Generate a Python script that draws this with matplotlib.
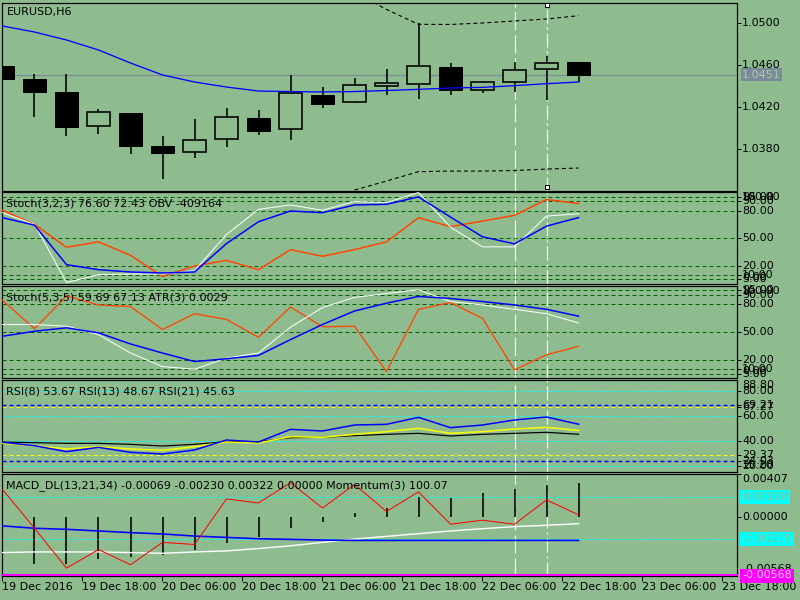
import numpy as np
import matplotlib
matplotlib.use('Agg')
import matplotlib.pyplot as plt

plt.rcParams['font.family'] = ['DejaVu Sans']
plt.rcParams['lines.scale_dashes'] = False
plt.rcParams['font.size'] = 8

W, H = 800, 600
PT = 0.72          # points per pixel at 100 dpi
BG = '#8fbc8f'

# ---------------- data ----------------
x_labels = ['19 Dec 2016', '19 Dec 18:00', '20 Dec 06:00', '20 Dec 18:00', '21 Dec 06:00',
            '21 Dec 18:00', '22 Dec 06:00', '22 Dec 18:00', '23 Dec 06:00', '23 Dec 18:00']

opens  = [1.04593, 1.04470, 1.04346, 1.04025, 1.04146, 1.03831, 1.03777, 1.03895, 1.04098, 1.03990,
          1.04317, 1.04248, 1.04400, 1.04419, 1.04581, 1.04362, 1.04438, 1.04562, 1.04629]
highs  = [1.04593, 1.04517, 1.04517, 1.04187, 1.04146, 1.03927, 1.04089, 1.04193, 1.04174, 1.04505,
          1.04390, 1.04479, 1.04565, 1.05000, 1.04622, 1.04453, 1.04631, 1.04686, 1.04629]
lows   = [1.04473, 1.04110, 1.03930, 1.03946, 1.03758, 1.03520, 1.03720, 1.03825, 1.03936, 1.03891,
          1.04196, 1.04238, 1.04320, 1.04282, 1.04320, 1.04339, 1.04349, 1.04270, 1.04438]
closes = [1.04473, 1.04349, 1.04015, 1.04155, 1.03834, 1.03768, 1.03886, 1.04105, 1.03977, 1.04333,
          1.04234, 1.04410, 1.04429, 1.04590, 1.04368, 1.04438, 1.04552, 1.04619, 1.04510]
ma_line = [1.04974, 1.04917, 1.04841, 1.04746, 1.04622, 1.04508, 1.04441, 1.04393, 1.04355, 1.04350,
           1.04346, 1.04350, 1.04360, 1.04371, 1.04384, 1.04390, 1.04406, 1.04425, 1.04441]
band_start = 11
band_upper = [1.05298, 1.05132, 1.04990, 1.04989, 1.05003, 1.05022, 1.05041, 1.05072]
band_lower = [1.03412, 1.03498, 1.03587, 1.03593, 1.03593, 1.03598, 1.03612, 1.03622]
last_price = 1.0451
price_ticks = [1.0500, 1.0460, 1.0420, 1.0380]

st1_main   = [77.8, 65.0, 1.6, 10.1, 10.9, 10.9, 14.5, 54.0, 81.4, 86.2, 80.4, 89.9, 88.8, 99.8, 62.0, 40.5, 40.5, 74.1, 76.60]
st1_signal = [72.3, 64.2, 21.1, 15.6, 13.1, 12.0, 13.1, 44.1, 67.9, 79.6, 77.8, 86.2, 86.9, 95.0, 73.0, 51.5, 43.8, 63.1, 72.43]
obv_line   = [80.4, 65.0, 40.1, 46.0, 31.3, 8.2, 19.6, 25.8, 15.6, 37.5, 30.2, 37.5, 46.0, 72.3, 62.5, 68.6, 74.9, 92.1, 87.7]

st2_main   = [58.1, 58.1, 56.3, 47.2, 27.3, 12.7, 9.8, 21.8, 27.3, 55.2, 76.4, 87.3, 91.6, 95.6, 82.9, 79.2, 74.5, 69.8, 59.69]
st2_signal = [45.4, 50.8, 54.5, 49.1, 37.1, 27.3, 18.1, 21.1, 24.7, 41.8, 58.1, 72.7, 81.1, 88.4, 86.2, 82.9, 79.2, 74.5, 67.13]
atr_line   = [84.3, 53.5, 89.0, 79.2, 77.5, 52.7, 69.8, 63.6, 44.3, 77.0, 55.6, 56.3, 7.2, 74.5, 81.8, 64.7, 9.1, 25.4, 34.5]
stoch_levels = [95, 90, 80, 50, 20, 10, 5]

rsi8  = [39.17, 36.51, 31.71, 35.17, 31.17, 29.84, 33.04, 41.04, 39.44, 49.57, 48.24, 53.04, 53.57, 59.17, 50.91, 53.04, 57.04, 59.44, 53.67]
rsi13 = [38.37, 36.51, 33.84, 35.71, 33.84, 32.77, 35.71, 39.44, 38.64, 43.71, 43.17, 45.57, 47.71, 50.37, 46.37, 47.71, 49.84, 51.17, 48.67]
rsi21 = [39.44, 38.91, 38.37, 38.37, 37.57, 36.24, 37.57, 39.71, 39.71, 42.91, 43.17, 44.51, 45.57, 46.37, 44.24, 45.57, 46.37, 47.17, 45.63]
rsi_cyan_levels = [80, 60, 40, 20]
rsi_blue_levels = [69.21, 24.03]
rsi_yellow_levels = [67.27, 29.37]
rsi_range = (15.20, 88.80)

macd_main   = [-0.00347, -0.00341, -0.00341, -0.00341, -0.00347, -0.00354, -0.00341, -0.00331, -0.00308, -0.00282,
               -0.00249, -0.00217, -0.00191, -0.00165, -0.00139, -0.00117, -0.00097, -0.00084, -0.00069]
macd_signal = [-0.00090, -0.00113, -0.00123, -0.00139, -0.00155, -0.00168, -0.00188, -0.00201, -0.00214, -0.00220,
               -0.00227, -0.00230, -0.00230, -0.00230, -0.00230, -0.00230, -0.00230, -0.00230, -0.00230]
macd_hist   = [np.nan, -0.00454, -0.00454, -0.00405, -0.00389, -0.00373, -0.00318, -0.00253, -0.00194, -0.00113,
               -0.00049, 0.00033, 0.00082, 0.00186, 0.00182, 0.00224, 0.00261, 0.00300, 0.00322]
momentum_line = [0.00261, -0.00113, -0.00497, -0.00318, -0.00464, -0.00249, -0.00269, 0.00170, 0.00131, 0.00326,
                 0.00082, 0.00309, 0.00049, 0.00238, -0.00074, -0.00035, -0.00074, 0.00160, 0.00017]
macd_levels = [0.00190, -0.00215]
macd_range = (-0.00568, 0.00407)

bars = np.arange(len(opens))
X_LEFT, X_RIGHT = -0.0156, 22.953
xtick_pos = [-0.0156 + 2.5 * k for k in range(len(x_labels))]

# ---------------- figure ----------------
fig = plt.figure(figsize=(8, 6), dpi=100, facecolor=BG)


def make_ax(top, bottom):
    ax = fig.add_axes([2 / W, 1 - bottom / H, 735 / W, (bottom - top) / H])
    ax.set_facecolor(BG)
    for s in ax.spines.values():
        s.set_linewidth(1.2 * PT)
        s.set_color('black')
    ax.set_xlim(X_LEFT, X_RIGHT)
    ax.tick_params(axis='x', bottom=False, labelbottom=False)
    ax.yaxis.tick_right()
    ax.tick_params(axis='y', direction='out', length=4 * PT, width=1 * PT, colors='black',
                   labelright=False, left=False, labelleft=False)
    return ax


def rlabel(ax, v, s, **kw):
    ax.annotate(s, xy=(1, v), xycoords=('axes fraction', 'data'), xytext=(5 * PT, 0),
                textcoords='offset points', va='center', ha='left', fontsize=8,
                annotation_clip=False, **kw)


def edge_label(ax, s, top=True):
    ax.annotate(s, xy=(1, 1 if top else 0), xycoords='axes fraction',
                xytext=(5 * PT, -5 * PT if top else 7 * PT), textcoords='offset points',
                va='center', ha='left', fontsize=8, annotation_clip=False)


def vlines_white(ax):
    ax.axvline(16, color='white', lw=1.2 * PT, linestyle=(0, (18 * PT, 5 * PT)), zorder=1.5)
    ax.axvline(17, color='white', lw=1.2 * PT, linestyle=(0, (14 * PT, 4 * PT, 2 * PT, 4 * PT)), zorder=1.5)


DASH = (0, (4 * PT, 3 * PT))

# ---- panel 1 : price ----
ax1 = make_ax(2.5, 190.7)
ax1.set_ylim(1.03406, 1.05198)
o = np.array(opens); c = np.array(closes)
up = c >= o
body_lo = np.minimum(o, c)
body_h = np.abs(c - o)
ax1.axhline(last_price, color='#7a8a9a', lw=1.2 * PT, zorder=1)
vlines_white(ax1)
ax1.vlines(bars, lows, highs, color='black', lw=1.6 * PT, zorder=2)
ax1.bar(bars[up], body_h[up], bottom=body_lo[up], width=0.72, facecolor=BG,
        edgecolor='black', linewidth=1.6 * PT, zorder=3)
ax1.bar(bars[~up], body_h[~up], bottom=body_lo[~up], width=0.72, facecolor='black',
        edgecolor='black', linewidth=1 * PT, zorder=3)
ax1.plot(bars, ma_line, color='#0000ff', lw=1.3 * PT, zorder=4)
bx = bars[band_start:]
ax1.plot(bx, band_upper, color='black', lw=1.1 * PT, linestyle=(0, (4 * PT, 3 * PT)), zorder=4)
ax1.plot(bx, band_lower, color='black', lw=1.1 * PT, linestyle=(0, (4 * PT, 3 * PT)), zorder=4)
for yf in (0.987, 0.018):
    ax1.plot([17], [yf], marker='s', ms=4 * PT, mfc='white', mec='black', mew=1 * PT,
             transform=ax1.get_xaxis_transform(), zorder=6, clip_on=False)
ax1.set_yticks(price_ticks)
for v in price_ticks:
    rlabel(ax1, v, f'{v:.4f}')
rlabel(ax1, last_price, f'{last_price:.4f}', color='#a6cf9f', zorder=10,
       bbox=dict(boxstyle='square,pad=0.12', facecolor='#7a8a9a', edgecolor='none'))
fig.text(7 / W, 1 - 12 / H, 'EURUSD,H6', va='center', ha='left', fontsize=8)

# ---- panel 2 : Stoch(3,2,3) + OBV ----
ax2 = make_ax(192.3, 284.0)
ax2.set_ylim(0, 100)
for v in stoch_levels:
    ax2.axhline(v, color='#006400', lw=1 * PT, linestyle=DASH, zorder=1)
vlines_white(ax2)
ax2.plot(bars, obv_line, color='#ff4500', lw=1.5 * PT, zorder=3)
ax2.plot(bars, st1_main, color='white', lw=1 * PT, zorder=3)
ax2.plot(bars, st1_signal, color='#0000ff', lw=1.5 * PT, zorder=4)
ax2.set_yticks(stoch_levels)
for v in stoch_levels:
    rlabel(ax2, v, f'{v:.2f}')
edge_label(ax2, '100.00', True)
edge_label(ax2, '0.00', False)
fig.text(6 / W, 1 - 203.3 / H, 'Stoch(3,2,3) 76.60 72.43 OBV -409164', va='center', ha='left', fontsize=8)

# ---- panel 3 : Stoch(5,3,5) + ATR ----
ax3 = make_ax(285.7, 378.3)
ax3.set_ylim(0, 100)
for v in stoch_levels:
    ax3.axhline(v, color='#006400', lw=1 * PT, linestyle=DASH, zorder=1)
vlines_white(ax3)
ax3.plot(bars, atr_line, color='#ff4500', lw=1.3 * PT, zorder=3)
ax3.plot(bars, st2_main, color='white', lw=1 * PT, zorder=3)
ax3.plot(bars, st2_signal, color='#0000ff', lw=1.5 * PT, zorder=4)
ax3.set_yticks(stoch_levels)
for v in stoch_levels:
    rlabel(ax3, v, f'{v:.2f}')
edge_label(ax3, '100.00', True)
edge_label(ax3, '0.00', False)
fig.text(6 / W, 1 - 297.3 / H, 'Stoch(5,3,5) 59.69 67.13 ATR(3) 0.0029', va='center', ha='left', fontsize=8)

# ---- panel 4 : RSI ----
ax4 = make_ax(380.3, 472.3)
ax4.set_ylim(*rsi_range)
for v in rsi_cyan_levels:
    ax4.axhline(v, color='#00ffff', lw=1 * PT, linestyle=DASH, zorder=1)
for v in rsi_yellow_levels:
    ax4.axhline(v, color='#ffff00', lw=1 * PT, linestyle=DASH, zorder=1)
for v in rsi_blue_levels:
    ax4.axhline(v, color='#0000ff', lw=1.4 * PT, linestyle=DASH, zorder=1)
vlines_white(ax4)
ax4.plot(bars, rsi21, color='black', lw=1.2 * PT, zorder=3)
ax4.plot(bars, rsi13, color='#ffff00', lw=1.5 * PT, zorder=3)
ax4.plot(bars, rsi8, color='#0000ff', lw=1.5 * PT, zorder=4)
rsi_all_levels = rsi_cyan_levels + rsi_blue_levels + rsi_yellow_levels
ax4.set_yticks(rsi_all_levels)
for v in rsi_all_levels:
    rlabel(ax4, v, f'{v:.2f}')
edge_label(ax4, f'{rsi_range[1]:.2f}', True)
edge_label(ax4, f'{rsi_range[0]:.2f}', False)
fig.text(6 / W, 1 - 391.7 / H, 'RSI(8) 53.67 RSI(13) 48.67 RSI(21) 45.63', va='center', ha='left', fontsize=8)

# ---- panel 5 : MACD + Momentum ----
ax5 = make_ax(474.3, 575.5)
ax5.set_ylim(*macd_range)
for v in macd_levels:
    ax5.axhline(v, color='#00ffff', lw=1 * PT, linestyle=DASH, zorder=1)
ax5.axhline(macd_range[0], color='#ff00ff', lw=2 * PT, zorder=6, clip_on=False)
vlines_white(ax5)
ax5.vlines(bars, 0, macd_hist, color='black', lw=1.6 * PT, zorder=2)
ax5.plot(bars, macd_main, color='white', lw=1.4 * PT, zorder=3)
ax5.plot(bars, macd_signal, color='#0000ff', lw=1.6 * PT, zorder=3)
ax5.plot(bars, momentum_line, color='#ff0000', lw=1 * PT, zorder=4)
ax5.set_yticks([macd_range[1], 0.0])
rlabel(ax5, 0.0, '0.00000')
edge_label(ax5, f'{macd_range[1]:.5f}', True)
edge_label(ax5, f'{macd_range[0]:.5f}', False)
for v in macd_levels:
    rlabel(ax5, v, f'{v:.5f}', color=BG, zorder=10,
           bbox=dict(boxstyle='square,pad=0.18', facecolor='#00ffff', edgecolor='none'))
rlabel(ax5, macd_range[0], f'{macd_range[0]:.5f}', color='#f5c8f5', zorder=10,
       bbox=dict(boxstyle='square,pad=0.18', facecolor='#ff00ff', edgecolor='none'))
fig.text(6 / W, 1 - 486 / H,
         'MACD_DL(13,21,34) -0.00069 -0.00230 0.00322 0.00000 Momentum(3) 100.07',
         va='center', ha='left', fontsize=8)

ax5.set_xticks(xtick_pos)
ax5.set_xticklabels(x_labels, ha='left', fontsize=8)
ax5.tick_params(axis='x', bottom=True, labelbottom=True, direction='out',
                length=5 * PT, width=1 * PT, pad=1)

fig.savefig('out.png', dpi=100, facecolor=BG)
